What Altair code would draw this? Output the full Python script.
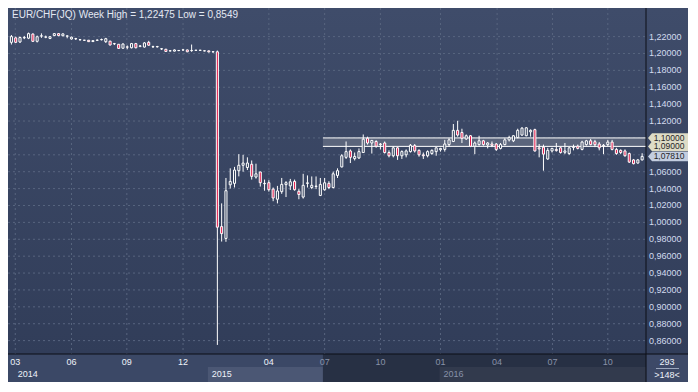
import altair as alt
import pandas as pd

# ---------------- data ----------------
opens = [1.2132, 1.2185, 1.2136, 1.2185, 1.2181, 1.2230, 1.2144, 1.2206, 1.2193, 1.2178,
         1.2212, 1.2235, 1.2210, 1.2205, 1.2172, 1.2174, 1.2163, 1.2156, 1.2157, 1.2141,
         1.2156, 1.2163, 1.2140, 1.2146, 1.2115, 1.2109, 1.2062, 1.2078, 1.2068, 1.2117,
         1.2085, 1.2076, 1.2132, 1.2078, 1.2079, 1.2054, 1.2050, 1.2030, 1.2028, 1.2034,
         1.2041, 1.2042, 1.2034, 1.2037, 1.2037, 1.2030, 1.2031, 1.2019, 1.2020, 0.9950,
         0.9810, 1.0445, 1.0462, 1.0612, 1.0676, 1.0650, 1.0688, 1.0537, 1.0597, 1.0458,
         1.0470, 1.0394, 1.0274, 1.0364, 1.0447, 1.0432, 1.0485, 1.0368, 1.0300, 1.0462,
         1.0413, 1.0425, 1.0319, 1.0386, 1.0462, 1.0413, 1.0556, 1.0657, 1.0770, 1.0846,
         1.0755, 1.0763, 1.0827, 1.0996, 1.0940, 1.0958, 1.0921, 1.0940, 1.0827, 1.0789,
         1.0883, 1.0789, 1.0800, 1.0838, 1.0909, 1.0853, 1.0800, 1.0789, 1.0815, 1.0838,
         1.0860, 1.0864, 1.0921, 1.0958, 1.1090, 1.1064, 1.0988, 1.1026, 1.0902, 1.0921,
         1.0966, 1.0917, 1.0928, 1.0928, 1.0876, 1.0921, 1.0977, 1.0966, 1.1004, 1.1034,
         1.1026, 1.1072, 1.1098, 1.0883, 1.0891, 1.0751, 1.0846, 1.0864, 1.0883, 1.0830,
         1.0815, 1.0886, 1.0902, 1.0864, 1.0921, 1.0966, 1.0955, 1.0928, 1.0905, 1.0921,
         1.0951, 1.0864, 1.0853, 1.0846, 1.0815, 1.0740, 1.0703, 1.0740]
highs = [1.2219, 1.2200, 1.2200, 1.2208, 1.22475, 1.2238, 1.2212, 1.2238, 1.2212, 1.2204,
         1.2240, 1.2240, 1.2238, 1.2215, 1.2200, 1.2185, 1.2172, 1.2160, 1.2160, 1.2155,
         1.2166, 1.2176, 1.2185, 1.2150, 1.2125, 1.2112, 1.2120, 1.2095, 1.2125, 1.2125,
         1.2100, 1.2135, 1.2150, 1.2092, 1.2090, 1.2062, 1.2055, 1.2038, 1.2048, 1.2040,
         1.2050, 1.2046, 1.2106, 1.2042, 1.2042, 1.2036, 1.2034, 1.2025, 1.2035, 1.0225,
         1.0526, 1.0640, 1.0657, 1.0808, 1.0800, 1.0770, 1.0733, 1.0695, 1.0600, 1.0507,
         1.0500, 1.0413, 1.0432, 1.0526, 1.0488, 1.0515, 1.0507, 1.0394, 1.0575, 1.0556,
         1.0544, 1.0544, 1.0526, 1.0526, 1.0488, 1.0601, 1.0640, 1.0808, 1.0958, 1.0864,
         1.0827, 1.0876, 1.1041, 1.1015, 1.0977, 1.0973, 1.0940, 1.0958, 1.0853, 1.0902,
         1.0891, 1.0853, 1.0864, 1.0928, 1.0928, 1.0864, 1.0827, 1.0853, 1.0864, 1.0891,
         1.0883, 1.0977, 1.0996, 1.1165, 1.1203, 1.1109, 1.1041, 1.1034, 1.0958, 1.1026,
         1.0977, 1.0951, 1.0958, 1.0940, 1.0940, 1.0996, 1.1026, 1.1034, 1.1109, 1.1128,
         1.1128, 1.1101, 1.1109, 1.0928, 1.0921, 1.0883, 1.0883, 1.0940, 1.0891, 1.0940,
         1.0891, 1.0921, 1.0921, 1.0966, 1.0977, 1.0988, 1.0977, 1.0951, 1.0928, 1.0977,
         1.0977, 1.0883, 1.0864, 1.0864, 1.0827, 1.0751, 1.0751, 1.0819]
lows = [1.2106, 1.2125, 1.2125, 1.2170, 1.2170, 1.2136, 1.2130, 1.2185, 1.2181, 1.2170,
        1.2208, 1.2205, 1.2204, 1.2180, 1.2165, 1.2160, 1.2150, 1.2150, 1.2136, 1.2138,
        1.2150, 1.2155, 1.2125, 1.2095, 1.2100, 1.2055, 1.2060, 1.2050, 1.2060, 1.2060,
        1.2075, 1.2070, 1.2090, 1.2068, 1.2070, 1.2042, 1.2020, 1.2025, 1.2024, 1.2028,
        1.2032, 1.2016, 1.2020, 1.2030, 1.2030, 1.2026, 1.2012, 1.2010, 0.8549, 0.9773,
        0.9770, 1.0400, 1.0413, 1.0545, 1.0600, 1.0620, 1.0507, 1.0518, 1.0424, 1.0375,
        1.0364, 1.0251, 1.0225, 1.0338, 1.0300, 1.0383, 1.0375, 1.0274, 1.0282, 1.0413,
        1.0394, 1.0394, 1.0311, 1.0375, 1.0394, 1.0402, 1.0526, 1.0650, 1.0751, 1.0703,
        1.0733, 1.0751, 1.0827, 1.0921, 1.0815, 1.0883, 1.0864, 1.0815, 1.0770, 1.0770,
        1.0740, 1.0751, 1.0770, 1.0827, 1.0827, 1.0778, 1.0751, 1.0770, 1.0800, 1.0789,
        1.0838, 1.0838, 1.0902, 1.0951, 1.1015, 1.0940, 1.0977, 1.0891, 1.0808, 1.0909,
        1.0909, 1.0876, 1.0891, 1.0846, 1.0864, 1.0913, 1.0958, 1.0951, 1.0996, 1.1026,
        1.1020, 1.1015, 1.0838, 1.0770, 1.0612, 1.0740, 1.0827, 1.0838, 1.0815, 1.0808,
        1.0800, 1.0853, 1.0864, 1.0853, 1.0909, 1.0913, 1.0891, 1.0853, 1.0808, 1.0902,
        1.0853, 1.0800, 1.0808, 1.0778, 1.0703, 1.0687, 1.0695, 1.0733]
closes = [1.2200, 1.2132, 1.2189, 1.2189, 1.2235, 1.2144, 1.2198, 1.2209, 1.2196, 1.2198,
          1.2235, 1.2212, 1.2232, 1.2208, 1.2193, 1.2176, 1.2165, 1.2158, 1.2140, 1.2152,
          1.2158, 1.2165, 1.2175, 1.2101, 1.2117, 1.2060, 1.2112, 1.2075, 1.2117, 1.2068,
          1.2089, 1.2125, 1.2098, 1.2081, 1.2082, 1.2056, 1.2024, 1.2032, 1.2042, 1.2036,
          1.2043, 1.2020, 1.2036, 1.2039, 1.2039, 1.2032, 1.2019, 1.2021, 0.9943, 0.9867,
          1.0375, 1.0485, 1.0620, 1.0676, 1.0702, 1.0703, 1.0545, 1.0575, 1.0470, 1.0462,
          1.0387, 1.0289, 1.0372, 1.0450, 1.0470, 1.0481, 1.0387, 1.0330, 1.0439, 1.0468,
          1.0439, 1.0430, 1.0450, 1.0469, 1.0413, 1.0575, 1.0612, 1.0789, 1.0838, 1.0770,
          1.0781, 1.0838, 1.0985, 1.0940, 1.0970, 1.0902, 1.0928, 1.0827, 1.0789, 1.0883,
          1.0789, 1.0838, 1.0846, 1.0913, 1.0846, 1.0800, 1.0789, 1.0838, 1.0853, 1.0883,
          1.0876, 1.0928, 1.0977, 1.1090, 1.1034, 1.0996, 1.1026, 1.0902, 1.0940, 1.0966,
          1.0921, 1.0940, 1.0912, 1.0864, 1.0921, 1.0977, 1.1004, 1.1026, 1.1090, 1.1116,
          1.1120, 1.1090, 1.0846, 1.0870, 1.0808, 1.0853, 1.0876, 1.0850, 1.0827, 1.0846,
          1.0883, 1.0898, 1.0876, 1.0951, 1.0966, 1.0921, 1.0920, 1.0883, 1.0913, 1.0951,
          1.0864, 1.0815, 1.0827, 1.0789, 1.0714, 1.0695, 1.0740, 1.0781]

month_pos = [0.9, 14, 26.9, 40, 60, 73, 86, 100, 113.2, 126.1, 139]
month_lbl = ["03", "06", "09", "12", "04", "07", "10", "01", "04", "07", "10"]
year_lbl = ["2014", "2015", "2016"]
year_text_pos = [1.5, 46.7, 100.7]
year_box_start = [45.8, 99.8]
year_box_end = [72.6, 147.9]
price_ticks = [0.86, 0.88, 0.90, 0.92, 0.94, 0.96, 0.98, 1.00, 1.02, 1.04,
               1.06, 1.08, 1.10, 1.12, 1.14, 1.16, 1.18, 1.20, 1.22]
level_vals = [1.10, 1.09]
level_start = 72.6
last_price = 1.0781
title_text = "EUR/CHF(JQ) Week High = 1,22475 Low = 0,8549"
bars_total = "293"
bars_visible = ">148<"

# ---------------- layout / style ----------------
W, H = 638, 346
RP, BB = 42, 28
FONT = "Liberation Sans"
RED = "#e31a4b"
BODY = "#38455f"
GRID = "#58657f"
DIM = "#8791a8"
WHITE_TXT = "#eef2f9"

xs = alt.Scale(domain=[-0.795, 147.9], nice=False, zero=False)
ys = alt.Scale(domain=[0.84415, 1.25386], nice=False, zero=False)

tag_vals = level_vals + [last_price]
# axis labels that sit underneath a price tag are hidden, as in the reference
shown_ticks = [t for t in price_ticks if all(abs(t - v) > 0.004 for v in tag_vals)]

one = pd.DataFrame({"k": [0]})
candles = pd.DataFrame({"i": list(range(len(opens))), "o": opens, "h": highs,
                        "l": lows, "c": closes})
months = pd.DataFrame({"pos": month_pos, "lbl": month_lbl})
years = pd.DataFrame({"pos": year_text_pos, "lbl": year_lbl})
yboxes = pd.DataFrame({"s": year_box_start, "e": year_box_end})
ticks = pd.DataFrame({"v": price_ticks})
tick_labels = pd.DataFrame({"v": shown_ticks})
band_df = pd.DataFrame({"s": [level_start], "lo": [min(level_vals)], "hi": [max(level_vals)]})
levels = pd.DataFrame({"s": [level_start] * len(level_vals), "v": level_vals})
tags = pd.DataFrame({"v": tag_vals, "kind": ["level"] * len(level_vals) + ["last"]})
fmt = "replace(format(datum.v, '.5f'), '.', ',')"

grad = alt.Gradient(gradient="linear", x1=0, y1=0, x2=0, y2=1,
                    stops=[alt.GradientStop(color="#3f4c6a", offset=0),
                           alt.GradientStop(color="#313d59", offset=1)])

bg = alt.Chart(one).mark_rect(fill=grad).encode(
    x=alt.value(0), x2=alt.value(W + RP), y=alt.value(0), y2=alt.value(H))

hgrid = alt.Chart(ticks).mark_rule(color=GRID, strokeDash=[2, 3], strokeWidth=1).encode(
    y=alt.Y("v:Q", scale=ys, axis=None), x=alt.value(0), x2=alt.value(W))

vgrid = alt.Chart(months).mark_rule(color=GRID, strokeDash=[2, 3], strokeWidth=1).encode(
    x=alt.X("pos:Q", scale=xs, axis=None), y=alt.value(0), y2=alt.value(H))

band = alt.Chart(band_df).mark_rect(fill="#5b657c").encode(
    x=alt.X("s:Q", scale=xs, axis=None), x2=alt.value(W),
    y=alt.Y("lo:Q", scale=ys, axis=None), y2="hi:Q")

lvl = alt.Chart(levels).mark_rule(color="#ffffff", strokeWidth=1).encode(
    x=alt.X("s:Q", scale=xs, axis=None), x2=alt.value(W),
    y=alt.Y("v:Q", scale=ys, axis=None))

wicks = alt.Chart(candles).mark_rule(color="#ffffff", strokeWidth=1).encode(
    x=alt.X("i:Q", scale=xs, axis=None),
    y=alt.Y("l:Q", scale=ys, axis=None), y2="h:Q")

bodies = alt.Chart(candles).transform_calculate(
    x0="datum.i - 0.24", x1="datum.i + 0.24"
).mark_rect(stroke="#ffffff", strokeWidth=1).encode(
    x=alt.X("x0:Q", scale=xs, axis=None), x2="x1:Q",
    y=alt.Y("o:Q", scale=ys, axis=None), y2="c:Q",
    fill=alt.condition("datum.c < datum.o", alt.value(RED), alt.value(BODY)))

# bottom time band
band_base = alt.Chart(one).mark_rect(fill="#3b4866").encode(
    x=alt.value(0), x2=alt.value(W), y=alt.value(H), y2=alt.value(H + BB))
ybox = alt.Chart(yboxes).mark_rect(fill="#4b5774").encode(
    x=alt.X("s:Q", scale=xs, axis=None), x2="e:Q",
    y=alt.value(H + 13), y2=alt.value(H + BB))
overlay = alt.Chart(band_df).mark_rect(fill="#000000", opacity=0.33).encode(
    x=alt.X("s:Q", scale=xs, axis=None), x2=alt.value(W),
    y=alt.value(H), y2=alt.value(H + BB))
mlab = alt.Chart(months).mark_text(font=FONT, fontSize=9, align="center", baseline="middle").encode(
    x=alt.X("pos:Q", scale=xs, axis=None), y=alt.value(H + 8), text="lbl:N",
    color=alt.condition(f"datum.pos < {level_start}", alt.value(WHITE_TXT), alt.value(DIM)))
ylab = alt.Chart(years).mark_text(font=FONT, fontSize=9, align="left", baseline="middle").encode(
    x=alt.X("pos:Q", scale=xs, axis=None), y=alt.value(H + 20), text="lbl:N",
    color=alt.condition(f"datum.pos < {level_start}", alt.value(WHITE_TXT), alt.value(DIM)))

# right price axis labels
plab = alt.Chart(tick_labels).transform_calculate(lbl=fmt).mark_text(
    font=FONT, fontSize=9, align="left", baseline="middle", color="#d2dcef").encode(
    y=alt.Y("v:Q", scale=ys, axis=None), x=alt.value(W + 3), text="lbl:N")

tag_shape = "M-1,0L-0.8,-0.24L1,-0.24L1,0.24L-0.8,0.24Z"
tagm = alt.Chart(tags).mark_point(shape=tag_shape, size=1600, filled=True, opacity=1,
                                  strokeWidth=0).encode(
    y=alt.Y("v:Q", scale=ys, axis=None), x=alt.value(W + 22),
    color=alt.condition("datum.kind == 'last'", alt.value("#c3cde0"), alt.value("#dedcc6")))
tagt = alt.Chart(tags).transform_calculate(lbl=fmt).mark_text(
    font=FONT, fontSize=8.5, align="center", baseline="middle", color="#262626").encode(
    y=alt.Y("v:Q", scale=ys, axis=None), x=alt.value(W + 23), text="lbl:N")

# frame lines and corner box
vline = alt.Chart(one).mark_rule(color="#0c0f16", strokeWidth=1).encode(
    x=alt.value(W), y=alt.value(0), y2=alt.value(H + BB))
hline = alt.Chart(one).mark_rule(color="#0c0f16", strokeWidth=1).encode(
    y=alt.value(H), x=alt.value(0), x2=alt.value(W + RP))
corner = alt.Chart(one).mark_rect(fill="#3d4967").encode(
    x=alt.value(W + 1), x2=alt.value(W + RP), y=alt.value(H + 1), y2=alt.value(H + BB))
c1 = alt.Chart(one).mark_text(font=FONT, fontSize=9, align="center", baseline="middle",
                              color=WHITE_TXT).encode(
    x=alt.value(W + 21), y=alt.value(H + 8), text=alt.value(bars_total))
csep = alt.Chart(one).mark_rule(color="#9aa5bb", strokeWidth=1).encode(
    x=alt.value(W + 10), x2=alt.value(W + 33), y=alt.value(H + 14.5))
c2 = alt.Chart(one).mark_text(font=FONT, fontSize=9, align="center", baseline="middle",
                              color=WHITE_TXT).encode(
    x=alt.value(W + 21), y=alt.value(H + 21), text=alt.value(bars_visible))

title = alt.Chart(one).mark_text(font=FONT, fontSize=10, align="left", baseline="middle",
                                 color="#e3e8f2").encode(
    x=alt.value(4), y=alt.value(7), text=alt.value(title_text))

chart = alt.layer(
    bg, hgrid, vgrid, band, lvl, wicks, bodies,
    band_base, ybox, overlay, mlab, ylab,
    plab, tagm, tagt, vline, hline, corner, c1, csep, c2, title
).properties(
    width=W, height=H,
    padding={"left": 0, "top": 0, "right": RP, "bottom": BB},
    autosize=alt.AutoSizeParams(type="none"),
    background="#3a4763",
).configure_view(stroke=None)

chart.save("out.html", embed_options={"renderer": "svg", "actions": False})
